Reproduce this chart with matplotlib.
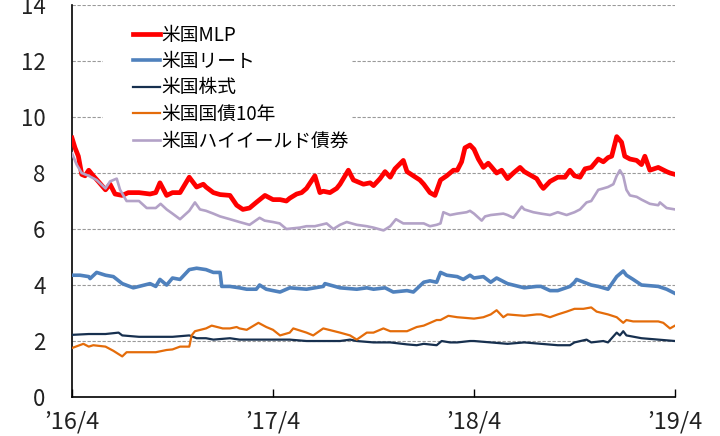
import matplotlib
matplotlib.use("Agg")
import matplotlib.pyplot as plt
from matplotlib.patches import Rectangle

plt.rcParams['font.family'] = ['Noto Sans CJK JP', 'DejaVu Sans']

# === データ (2016/4 からの経過月, 値) ===
mlp_m = [0, 0.18, 0.38, 0.58, 0.78, 1, 1.27, 1.57, 2, 2.27, 2.57, 3, 3.36, 4, 4.66, 5, 5.25, 5.65,
         6, 6.45, 7, 7.44, 7.84, 8, 8.44, 8.84, 9.43, 9.83, 10.2, 10.6, 11, 11.52, 12, 12.42, 12.8,
         13, 13.41, 13.71, 14, 14.5, 14.8, 15, 15.4, 15.8, 16, 16.5, 16.8, 17, 17.4, 17.8, 18,
         18.39, 18.69, 19, 19.28, 19.78, 20, 20.38, 20.77, 21, 21.37, 21.67, 22, 22.37, 22.77,
         23, 23.26, 23.46, 23.76, 24, 24.26, 24.56, 24.85, 25, 25.35, 25.65, 26, 26.35, 26.75,
         27, 27.44, 27.74, 28, 28.14, 28.54, 29, 29.43, 29.73, 30, 30.33, 30.63, 31, 31.42,
         31.72, 32, 32.22, 32.52, 32.81, 33, 33.31, 33.71, 34, 34.2, 34.5, 35, 35.5, 35.7, 36]
mlp_v = [9.25, 8.9, 8.6, 7.95, 7.9, 8.1, 7.9, 7.7, 7.4, 7.6, 7.25, 7.2, 7.3, 7.3, 7.25, 7.3, 7.65, 7.2,
         7.3, 7.3, 7.85, 7.5, 7.6, 7.5, 7.3, 7.23, 7.2, 6.85, 6.7, 6.75, 6.95, 7.2, 7.05, 7.05, 7.0,
         7.1, 7.25, 7.3, 7.45, 7.9, 7.3, 7.35, 7.3, 7.45, 7.6, 8.1, 7.75, 7.7, 7.6, 7.65, 7.55,
         7.8, 8.05, 7.85, 8.15, 8.45, 8.05, 7.9, 7.75, 7.6, 7.3, 7.2, 7.75, 7.9, 8.1,
         8.1, 8.4, 8.9, 9.0, 8.85, 8.5, 8.2, 8.35, 8.25, 8.0, 8.1, 7.8, 8.0, 8.2,
         8.05, 7.9, 7.8, 7.55, 7.45, 7.7, 7.85, 7.85, 8.1, 7.9, 7.85, 8.15, 8.2, 8.5,
         8.4, 8.55, 8.6, 9.3, 9.1, 8.6, 8.5, 8.45, 8.3, 8.6, 8.1, 8.2, 8.05, 8.0, 7.95]

reit_m = [0, 0.48, 1, 1.08, 1.47, 2, 2.47, 3, 3.66, 4, 4.66, 5, 5.25, 5.65, 6, 6.45, 7, 7.44, 8,
          8.44, 8.84, 8.94, 9.43, 10, 10.43, 11, 11.2, 11.6, 12, 12.42, 13, 14, 15, 15.1, 16, 17,
          17.6, 18, 18.69, 19.18, 20, 20.38, 21, 21.37, 21.77, 22, 22.37, 23, 23.36, 23.76, 24,
          24.56, 25, 25.35, 26, 27, 27.74, 28, 28.54, 29, 29.73, 30, 30.12, 31, 31.42, 32, 32.52,
          32.91, 33.1, 33.5, 34, 35, 35.5, 36]
reit_v = [4.35, 4.35, 4.3, 4.23, 4.45, 4.35, 4.3, 4.05, 3.9, 3.95, 4.05, 3.95, 4.2, 4.0, 4.25, 4.2,
          4.55, 4.6, 4.55, 4.45, 4.45, 3.95, 3.95, 3.9, 3.85, 3.85, 4.0, 3.85, 3.8, 3.75, 3.9, 3.85,
          3.95, 4.05, 3.9, 3.85, 3.9, 3.85, 3.9, 3.75, 3.8, 3.75, 4.1, 4.15, 4.1, 4.45, 4.35, 4.3,
          4.2, 4.35, 4.25, 4.3, 4.1, 4.25, 4.05, 3.9, 3.95, 3.95, 3.8, 3.8, 3.95, 4.1, 4.2, 4.0,
          3.95, 3.85, 4.3, 4.5, 4.35, 4.2, 4.0, 3.95, 3.85, 3.7]

stock_m = [0, 1, 2, 2.78, 3, 4, 5, 6, 7, 7.44, 8, 8.44, 9.43, 10, 11, 12, 13, 14, 15, 16, 16.6, 17,
           18, 19, 20, 20.58, 21, 21.77, 22.07, 22.57, 23, 23.76, 24, 25, 26, 27, 28, 29, 29.73,
           30, 30.72, 31, 31.72, 32, 32.52, 32.71, 32.91, 33.1, 34, 35, 36]
stock_v = [2.22, 2.25, 2.25, 2.3, 2.2, 2.15, 2.15, 2.15, 2.2, 2.1, 2.1, 2.05, 2.1, 2.05, 2.05, 2.05,
           2.05, 2.0, 2.0, 2.0, 2.05, 2.0, 1.95, 1.95, 1.88, 1.85, 1.9, 1.85, 2.0, 1.95, 1.95, 2.0,
           2.0, 1.95, 1.9, 1.95, 1.9, 1.85, 1.85, 1.95, 2.05, 1.95, 2.0, 1.95, 2.3, 2.2, 2.35, 2.2,
           2.1, 2.05, 2.0]

bond_m = [0, 0.68, 1, 1.27, 2, 2.47, 3, 3.26, 4, 5, 5.65, 6, 6.45, 7, 7.04, 7.14, 7.34, 8, 8.34, 9,
          9.43, 9.83, 10, 10.43, 11.13, 11.6, 12, 12.42, 13, 13.21, 14, 14.4, 15, 16, 16.6, 17,
          17.6, 18, 18.59, 19, 20, 20.58, 21, 21.77, 22, 22.47, 23, 24, 24.56, 25, 25.35, 25.75,
          26, 27, 27.74, 28, 28.54, 29, 29.53, 30, 30.53, 31, 31.32, 32, 32.52, 32.91, 33.1, 33.5,
          34, 35, 35.3, 35.7, 36]
bond_v = [1.75, 1.9, 1.8, 1.85, 1.8, 1.65, 1.45, 1.6, 1.6, 1.6, 1.68, 1.7, 1.8, 1.8, 1.9, 2.2, 2.35,
          2.45, 2.55, 2.45, 2.45, 2.5, 2.45, 2.4, 2.65, 2.5, 2.4, 2.2, 2.3, 2.45, 2.3, 2.2, 2.45,
          2.3, 2.2, 2.05, 2.3, 2.3, 2.45, 2.35, 2.35, 2.5, 2.55, 2.75, 2.75, 2.9, 2.85, 2.8, 2.85,
          2.95, 3.1, 2.85, 2.95, 2.9, 2.95, 2.95, 2.85, 2.95, 3.05, 3.15, 3.15, 3.2, 3.05, 2.95,
          2.85, 2.65, 2.75, 2.7, 2.7, 2.7, 2.65, 2.45, 2.55]

hy_m = [0, 0.28, 0.58, 1, 1.47, 2, 2.27, 2.67, 2.87, 3.26, 4, 4.46, 5, 5.29, 5.65, 6, 6.45, 7, 7.34,
        7.64, 8, 8.44, 8.84, 9.43, 10, 10.6, 11.2, 11.5, 12, 12.4, 12.8, 13.6, 14, 14.5, 15.2, 15.6,
        16, 16.4, 17, 17.6, 18, 18.6, 19, 19.34, 19.78, 20, 21, 21.37, 21.77, 22, 22.17, 22.57, 23,
        23.56, 23.76, 24, 24.46, 24.66, 25, 25.75, 26, 26.35, 26.85, 27, 27.54, 28, 28.54, 29,
        29.53, 30, 30.33, 30.72, 31, 31.42, 31.72, 32, 32.32, 32.52, 32.71, 32.91, 33.1, 33.31,
        33.71, 34, 34.5, 35, 35.1, 35.5, 36]
hy_v = [8.7, 8.3, 8.0, 7.9, 7.75, 7.45, 7.7, 7.8, 7.4, 7.0, 7.0, 6.75, 6.75, 6.9, 6.7, 6.55, 6.35,
        6.65, 6.95, 6.7, 6.65, 6.55, 6.45, 6.35, 6.25, 6.15, 6.4, 6.3, 6.25, 6.2, 6.0, 6.05, 6.1,
        6.1, 6.2, 6.0, 6.15, 6.25, 6.15, 6.1, 6.05, 5.95, 6.1, 6.35, 6.2, 6.2, 6.2, 6.1, 6.15, 6.2,
        6.6, 6.5, 6.55, 6.6, 6.65, 6.55, 6.3, 6.45, 6.5, 6.55, 6.5, 6.4, 6.8, 6.7, 6.6, 6.55, 6.5,
        6.6, 6.5, 6.6, 6.7, 6.95, 7.0, 7.4, 7.45, 7.5, 7.6, 7.9, 8.1, 7.9, 7.4, 7.2, 7.15, 7.05,
        6.9, 6.85, 6.95, 6.75, 6.7]

x_ticks = [0, 12, 24, 36]
x_labels = ["’16/4", "’17/4", "’18/4", "’19/4"]

# ---------------------------
# 描画
# ---------------------------
fig = plt.figure(figsize=(7.2, 4.36), dpi=100)
ax = fig.add_axes([0.1, 0.0894, 0.8375, 0.8991])

ax.plot(mlp_m, mlp_v, color="#FF0000", lw=3.4, label="米国MLP", zorder=3)
ax.plot(reit_m, reit_v, color="#4F81BD", lw=2.6, label="米国リート", zorder=3)
ax.plot(stock_m, stock_v, color="#17304F", lw=1.6, label="米国株式", zorder=3)
ax.plot(bond_m, bond_v, color="#E46C0A", lw=1.6, label="米国国債10年", zorder=3)
ax.plot(hy_m, hy_v, color="#B3A2C7", lw=1.9, label="米国ハイイールド債券", zorder=3)

ax.set_xlim(0, 36)
ax.set_ylim(0, 14)
ax.set_yticks(range(0, 15, 2))
ax.set_xticks(x_ticks)
ax.set_xticklabels(x_labels)

ax.set_axisbelow(True)
ax.yaxis.grid(True, color="#9a9a9a", lw=0.8, linestyle=(0, (3, 1.5)))
ax.tick_params(axis="y", length=0, pad=19, labelsize=16, labelcolor="#222222")
ax.tick_params(axis="x", direction="in", length=6, width=1, pad=10, labelsize=17,
               colors="black", labelcolor="#222222")

for s in ["top", "right"]:
    ax.spines[s].set_visible(False)
for s in ["left", "bottom"]:
    ax.spines[s].set_linewidth(1.2)

# 凡例の背景 (グリッドを隠す白い箱)
ax.add_patch(Rectangle((0.052, 0.63), 0.41, 0.35, transform=ax.transAxes,
                       facecolor="white", edgecolor="none", zorder=1))
leg = ax.legend(loc="upper left", bbox_to_anchor=(0.101, 0.950), frameon=False,
                fontsize=13.5, handlelength=1.44, handletextpad=0.1, labelspacing=0.29,
                borderaxespad=0, borderpad=0)
leg.set_zorder(5)

fig.savefig("out.png", dpi=100)
